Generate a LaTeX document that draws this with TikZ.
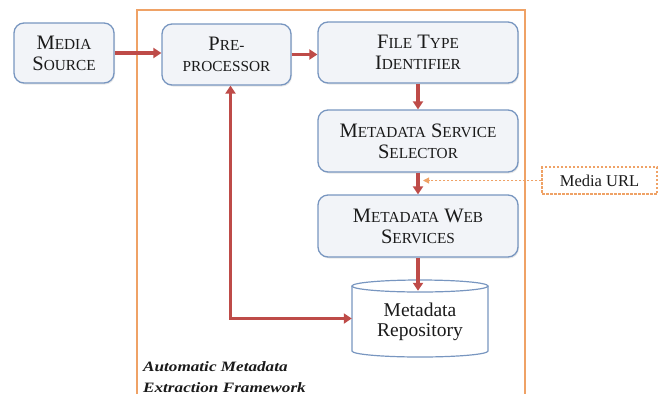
\documentclass[tikz,border=0pt]{standalone}
\usepackage{fontspec}
\setmainfont{Liberation Serif}
\newfontfamily\widebi[FakeStretch=1.2]{Liberation Serif}
\usetikzlibrary{arrows.meta,shadows}
\definecolor{boxborder}{HTML}{7896C0}
\definecolor{boxfill}{HTML}{F2F4F8}
\definecolor{arrred}{HTML}{BE4B48}
\definecolor{frameor}{HTML}{EFA266}
\definecolor{txt}{HTML}{1A1A1A}
\newcommand\BigSz{\fontsize{20.5}{21}\selectfont}
\newcommand\SmlSz{\fontsize{15.3}{21}\selectfont}
\newcommand\MySc[2]{#1{\SmlSz #2}}
\tikzset{
  procbox/.style={draw=boxborder, line width=1.3pt, fill=boxfill, rounded corners=10pt,
    align=center, text=txt, inner sep=0pt, font=\BigSz,
    drop shadow={opacity=0.18, shadow xshift=1pt, shadow yshift=-1.5pt}},
  redarr/.style={draw=arrred, line width=3.2pt, -{Triangle[length=8pt,width=10pt]}},
  urlarr/.style={draw=frameor, line width=1.1pt, dash pattern=on 2.5pt off 1.5pt, -{Triangle[length=6pt,width=6pt]}},
  framebox/.style={draw=frameor, line width=1.5pt},
  cylline/.style={draw=boxborder, line width=1.2pt}
}
\begin{document}
\begin{tikzpicture}[x=1pt,y=-1pt]
\useasboundingbox (0,0) rectangle (660,394);
% framework frame
\draw[framebox] (137,394) -- (137,10) -- (525,10) -- (525,394);
% boxes
\node[procbox, minimum width=100pt, minimum height=60pt] (ms) at (64,53)
  {\MySc{M}{EDIA}\\\MySc{S}{OURCE}};
\node[procbox, minimum width=129pt, minimum height=61pt] (pre) at (226.5,54.5)
  {\MySc{P}{RE-}\\{\SmlSz PROCESSOR}};
\node[procbox, minimum width=200pt, minimum height=61pt] (fti) at (418,52.5)
  {\MySc{F}{ILE} \MySc{T}{YPE}\\\MySc{I}{DENTIFIER}};
\node[procbox, minimum width=200pt, minimum height=62pt] (mss) at (418,141)
  {\MySc{M}{ETADATA} \MySc{S}{ERVICE}\\\MySc{S}{ELECTOR}};
\node[procbox, minimum width=200pt, minimum height=62pt] (mws) at (418,226)
  {\MySc{M}{ETADATA} \MySc{W}{EB}\\\MySc{S}{ERVICES}};
% repository cylinder
\fill[white] (352,286) rectangle (488,351);
\fill[white] (420,351) ellipse [x radius=68pt, y radius=6pt];
\draw[cylline] (352,286) -- (352,351) arc[start angle=180, end angle=360, x radius=68pt, y radius=6pt] -- (488,286);
\draw[cylline] (420,286) ellipse [x radius=68pt, y radius=6pt];
\node[minimum width=136pt, minimum height=77pt, inner sep=0pt] (repo) at (420,318.5) {};
\node[align=center, text=txt, font=\fontsize{19.5}{20}\selectfont, inner sep=0pt] (repotext) at (420,322) {Metadata\\Repository};
% media URL
\node[draw=frameor, line width=1.1pt, dash pattern=on 2.5pt off 1.5pt, fill=white,
  minimum width=115pt, minimum height=27pt, inner sep=0pt, text=txt,
  font=\fontsize{16.5}{18}\selectfont] (url) at (599.5,180.5) {Media URL};
\coordinate (j) at (423,180.5);
% connectors
\draw[redarr] (ms.east) -- (ms.east -| pre.west);
\draw[redarr] (pre.east) -- (pre.east -| fti.west);
\draw[redarr] (fti.south) -- (mss.north);
\draw[redarr] (mss.south) -- (mws.north);
\draw[redarr] (mws.south) -- ([yshift=-11pt]repo.north -| mws.south);
\draw[redarr, {Triangle[length=8pt,width=10pt]}-{Triangle[length=8pt,width=10pt]}] ([xshift=4pt]pre.south) |- (repo.west);
\draw[urlarr] (url.west) -- (j);
% framework label
\node[anchor=north west, align=left, text=txt, inner sep=0pt,
  font=\widebi\bfseries\itshape\fontsize{14.3}{21}\selectfont] (lbl) at (143,361)
  {Automatic Metadata\\Extraction Framework};
\end{tikzpicture}
\end{document}
